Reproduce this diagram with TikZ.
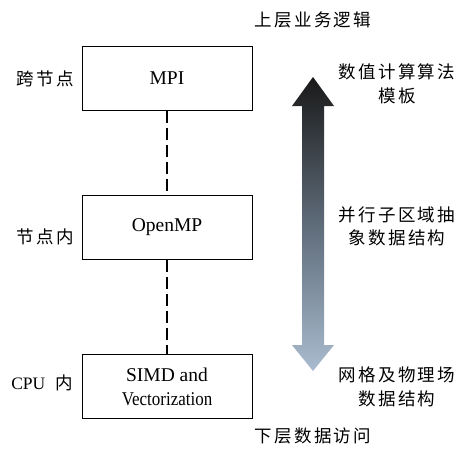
\documentclass[tikz,border=0pt]{standalone}
\usepackage{fontspec}
\setmainfont{Liberation Serif}
\newfontfamily\cjk[LetterSpace=13]{Noto Sans CJK SC}
\usetikzlibrary{positioning}
\definecolor{arrowlow}{HTML}{A9BCCF}
\definecolor{arrowmid}{HTML}{5E6B79}
\tikzset{
  layerbox/.style={draw, line width=1pt, minimum width=170pt, minimum height=64pt,
    inner sep=0pt, align=center, font=\fontsize{19.5}{24}\selectfont},
  sidelabel/.style={inner sep=0pt, align=center, font=\fontsize{17.5}{24}\selectfont},
  cjklabel/.style={inner sep=0pt, align=center, font=\fontsize{17.5}{23.5}\selectfont\cjk},
  linkline/.style={line width=2.6pt, dash pattern=on 12.5pt off 4.5pt}
}
\begin{document}
\begin{tikzpicture}[x=1pt, y=-1pt]
\useasboundingbox (0,0) rectangle (458,450);

% hierarchy of parallel layers
\node[layerbox] (mpi) at (167,78) {MPI};
\node[layerbox] (omp) at (167,227) {OpenMP};
\node[layerbox] (simd) at (167,386.5) {SIMD and\\\scalebox{0.87}[1]{Vectorization}};

\draw[linkline] (mpi.south) -- (omp.north);
\draw[linkline] (omp.south) -- (simd.north);

% level labels
\node[cjklabel] (l1) at (45,79) {跨节点};
\node[cjklabel] (l2) at (45,237) {节点内};
\node[sidelabel, anchor=east] (l3) at (73,383) {CPU\kern10pt{\cjk 内}};

% double-headed shaded arrow
\shade[top color=black!90, bottom color=arrowlow, middle color=arrowmid]
  (313,77) -- (334,106) -- (324,106) -- (324,345) -- (334,345) -- (313,371)
  -- (292,345) -- (302,345) -- (302,106) -- (292,106) -- cycle;

% software layer labels
\node[cjklabel] (top) at (313,20) {上层业务逻辑};
\node[cjklabel] (t1) at (397,84) {数值计算算法\\模板};
\node[cjklabel] (t2) at (397,226.5) {并行子区域抽\\象数据结构};
\node[cjklabel] (t3) at (397,387) {网格及物理场\\数据结构};
\node[cjklabel] (bot) at (313,436) {下层数据访问};
\end{tikzpicture}
\end{document}
